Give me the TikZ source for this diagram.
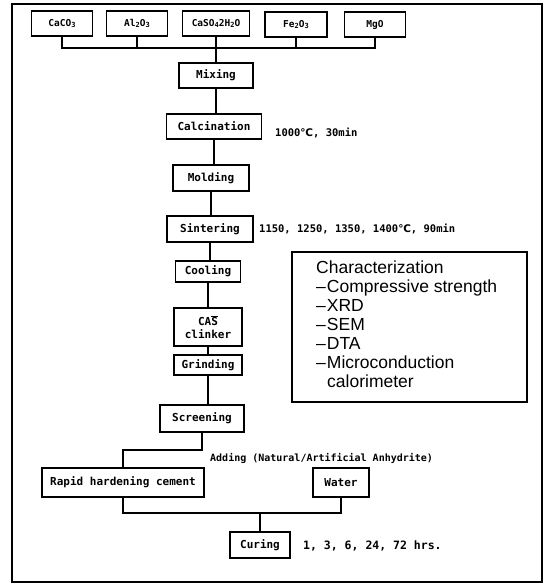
\documentclass[tikz,border=0pt]{standalone}
\usepackage{fontspec}
\setmainfont{Liberation Sans}
\newfontfamily\monob{DejaVu Sans Mono}
\newfontfamily\dvsans{DejaVu Sans}
\newcommand\mysub[1]{\raisebox{-0.35ex}{\fontsize{7}{7}\selectfont #1}}
\newcommand\degC{{\dvsans\bfseries ℃}}
\begin{document}
\begin{tikzpicture}[x=1pt,y=-1pt,
  box/.style={draw, line width=1.5pt, font=\monob\bfseries\fontsize{11}{12.5}\selectfont, inner sep=1pt, align=center},
  topbox/.style={box, font=\monob\bfseries\fontsize{9.5}{11}\selectfont, minimum width=61pt, minimum height=25pt},
  heavy/.style={box, line width=2.4pt},
  wire/.style={line width=2pt},
  note/.style={font=\monob\bfseries\fontsize{10.5}{12}\selectfont, inner sep=0pt, anchor=west},
  frame/.style={line width=1.3pt}]
\useasboundingbox (0,0) rectangle (548,584);
\draw[frame] (12,4) rectangle (542,582);

% raw materials
\node[topbox] (caco3) at (62,23.5) {CaCO\mysub{3}};
\node[topbox] (al) at (137,23.5) {Al\mysub{2}O\mysub{3}};
\node[topbox, minimum width=67pt] (caso) at (216,23.5) {CaSO\mysub{4}2H\mysub{2}O};
\node[topbox, minimum width=62pt] (fe) at (296,24.5) {Fe\mysub{2}O\mysub{3}};
\node[topbox] (mgo) at (375,24.5) {MgO};

% process chain
\node[box, minimum width=74pt, minimum height=25pt] (mix) at (216,75.5) {Mixing};
\node[box, minimum width=95pt, minimum height=25pt] (calc) at (214,126.5) {Calcination};
\node[box, minimum width=76pt, minimum height=26pt] (mold) at (211,178) {Molding};
\node[box, minimum width=86pt, minimum height=26pt] (sint) at (210,229) {Sintering};
\node[box, minimum width=65pt, minimum height=21pt] (cool) at (208,271.5) {Cooling};
\node[heavy, minimum width=68pt, minimum height=38pt] (cas) at (208,327) {CA$\overline{\hbox{S}}$\\clinker};
\node[box, minimum width=68pt, minimum height=20pt] (grind) at (208,365) {Grinding};
\node[heavy, minimum width=84pt, minimum height=27pt] (screen) at (202,418.5) {Screening};
\node[heavy, minimum width=162pt, minimum height=29pt] (rapid) at (123,482.5) {Rapid hardening cement};
\node[box, minimum width=56pt, minimum height=29pt] (water) at (341,482.5) {Water};
\node[box, minimum width=60pt, minimum height=26pt] (cure) at (260,545) {Curing};

% notes
\node[note] (n1) at (275,133) {1000\degC, 30min};
\node[note] (n2) at (259,229) {1150, 1250, 1350, 1400\degC, 90min};
\node[note, font=\monob\bfseries\fontsize{10}{12}\selectfont] (n3) at (210,458) {Adding (Natural/Artificial Anhydrite)};
\node[note, font=\monob\bfseries\fontsize{11.5}{13}\selectfont] (n4) at (303,546) {1, 3, 6, 24, 72 hrs.};

% characterization box
\node[draw, line width=1.5pt, minimum width=235pt, minimum height=150pt, inner sep=0pt] (charbox) at (409.5,327) {};
\node[anchor=north west, inner sep=0pt, align=left, font=\fontsize{17.5}{19}\selectfont] (chartext) at (316,261)
  {Characterization\\–\kern1pt Compressive strength\\–\kern1pt XRD\\–\kern1pt SEM\\–\kern1pt DTA\\–\kern1pt Microconduction\\\hspace*{11pt}calorimeter};

% connectors
\coordinate (bus) at (216,48);
\draw[wire] (caco3.south) |- (bus) -| (mgo.south);
\draw[wire] (al.south) -- (al.south |- bus);
\draw[wire] (fe.south) -- (fe.south |- bus);
\draw[wire] (caso.south) -- (caso.south |- mix.north);
\draw[wire] (mix.south) -- (mix.south |- calc.north);
\draw[wire] (calc.south) -- (calc.south |- mold.north);
\draw[wire] (mold.south) -- (mold.south |- sint.north);
\draw[wire] (sint.south) -- (sint.south |- cool.north);
\draw[wire] (cool.south) -- (cool.south |- cas.north);
\draw[wire] (cas.south) -- (cas.south |- grind.north);
\draw[wire] (grind.south) -- (grind.south |- screen.north);
\coordinate (j1) at (160,450);
\draw[wire] (screen.south) |- (j1) -| (rapid.north);
\coordinate (j2) at (260,513);
\draw[wire] (rapid.south) |- (j2) -| (water.south);
\draw[wire] (j2) -- (cure.north);
\end{tikzpicture}
\end{document}
